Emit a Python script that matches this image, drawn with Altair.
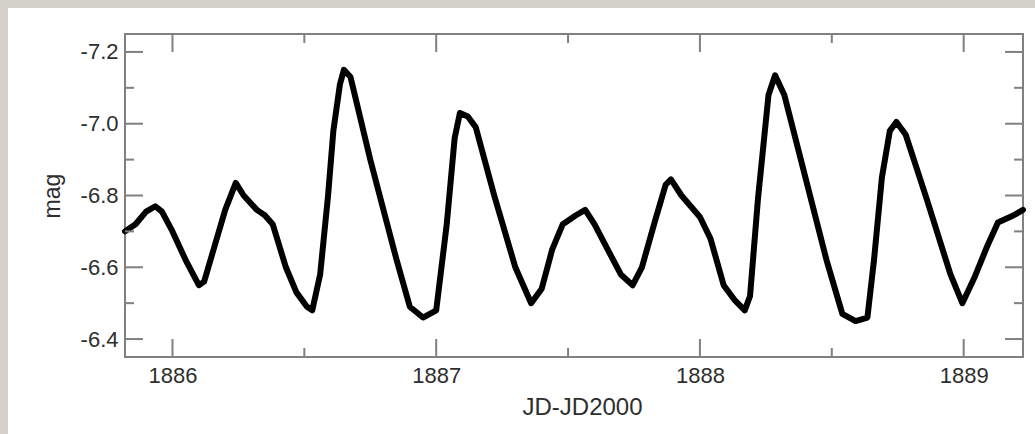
import altair as alt
import pandas as pd

# Light curve (JD-JD2000, mag)
jd = [1885.82, 1885.86, 1885.90, 1885.935, 1885.96, 1886.00, 1886.05, 1886.10, 1886.12,
      1886.16, 1886.20, 1886.24, 1886.27, 1886.32, 1886.35, 1886.38, 1886.43, 1886.47,
      1886.51, 1886.53, 1886.56, 1886.59, 1886.61, 1886.635, 1886.65, 1886.675, 1886.75,
      1886.85, 1886.90, 1886.95, 1887.00, 1887.04, 1887.07, 1887.09, 1887.12, 1887.15,
      1887.22, 1887.30, 1887.36, 1887.40, 1887.44, 1887.48, 1887.53, 1887.565, 1887.60,
      1887.65, 1887.70, 1887.745, 1887.78, 1887.83, 1887.87, 1887.89, 1887.93, 1888.00,
      1888.04, 1888.09, 1888.13, 1888.17, 1888.19, 1888.22, 1888.26, 1888.285, 1888.32,
      1888.40, 1888.48, 1888.54, 1888.59, 1888.635, 1888.66, 1888.69, 1888.72, 1888.745,
      1888.78, 1888.86, 1888.95, 1888.995, 1889.04, 1889.09, 1889.13, 1889.19, 1889.225]
mag = [-6.70, -6.72, -6.755, -6.77, -6.755, -6.70, -6.62, -6.55, -6.56,
       -6.66, -6.76, -6.835, -6.80, -6.76, -6.745, -6.72, -6.60, -6.53,
       -6.49, -6.48, -6.58, -6.80, -6.98, -7.11, -7.15, -7.13, -6.90,
       -6.62, -6.49, -6.46, -6.48, -6.72, -6.96, -7.03, -7.02, -6.99,
       -6.80, -6.60, -6.50, -6.54, -6.65, -6.72, -6.745, -6.76, -6.72,
       -6.65, -6.58, -6.55, -6.60, -6.73, -6.83, -6.845, -6.80, -6.74,
       -6.68, -6.55, -6.51, -6.48, -6.52, -6.79, -7.08, -7.135, -7.08,
       -6.85, -6.62, -6.47, -6.45, -6.46, -6.62, -6.85, -6.98, -7.005,
       -6.97, -6.79, -6.58, -6.50, -6.57, -6.66, -6.725, -6.745, -6.76]

x_major = [1886, 1887, 1888, 1889]
x_minor = [1886.5, 1887.5, 1888.5]
y_major = [-7.2, -7.0, -6.8, -6.6, -6.4]
y_minor = [-7.1, -6.9, -6.7, -6.5]

W, H = 898, 323
PAD_L, PAD_T, PAD_R, PAD_B = 125, 34, 12, 77
FRAME = "#808080"
TXT = "#2e2e2e"
FONT = "Liberation Sans"

xscale = alt.Scale(domain=[1885.82, 1889.225], nice=False, zero=False)
yscale = alt.Scale(domain=[-7.25, -6.35], reverse=True, nice=False, zero=False)

xaxis = alt.Axis(values=x_major, format="d", ticks=False, domain=False, grid=False,
                 labelFontSize=22, labelFont=FONT, labelColor=TXT, labelPadding=8,
                 title="JD-JD2000", titleFontSize=24, titleFont=FONT, titleColor=TXT,
                 titleFontWeight="normal", titleX=457, titleY=50,
                 titleBaseline="middle", zindex=1)
yaxis = alt.Axis(values=y_major, ticks=False, domain=False, grid=False,
                 labelExpr="'-' + format(abs(datum.value), '.1f')",
                 labelFontSize=22, labelFont=FONT, labelColor=TXT, labelPadding=7,
                 title="mag", titleFontSize=23, titleFont=FONT, titleColor=TXT,
                 titleFontWeight="normal", titleAngle=-90, titleX=-73, titleY=H / 2,
                 titleBaseline="middle", titleAlign="center", zindex=1)

df = pd.DataFrame({"jd": jd, "mag": mag})

curve = alt.Chart(df).mark_line(
    color="black", strokeWidth=6, strokeJoin="round", strokeCap="round"
).encode(
    x=alt.X("jd:Q", scale=xscale, axis=xaxis, title="JD-JD2000"),
    y=alt.Y("mag:Q", scale=yscale, axis=yaxis, title="mag"),
)

def yticks(vals, length):
    d = pd.DataFrame({"mag": vals})
    out = []
    for x0, x1 in [(0, length), (W - length, W)]:
        out.append(alt.Chart(d).mark_rule(color=FRAME, strokeWidth=2).encode(
            y=alt.Y("mag:Q", scale=yscale, axis=yaxis, title="mag"),
            x=alt.value(x0), x2=alt.value(x1)))
    return out

def xticks(vals, length):
    d = pd.DataFrame({"jd": vals})
    out = []
    for y0, y1 in [(H - length, H), (0, length)]:
        out.append(alt.Chart(d).mark_rule(color=FRAME, strokeWidth=2).encode(
            x=alt.X("jd:Q", scale=xscale, axis=xaxis, title="JD-JD2000"),
            y=alt.value(y0), y2=alt.value(y1)))
    return out

one = pd.DataFrame({"a": [0]})
GRAY = "#d4d0ca"
strip_top = alt.Chart(one).mark_rect(color=GRAY).encode(
    x=alt.value(-PAD_L), x2=alt.value(W + PAD_R), y=alt.value(-PAD_T), y2=alt.value(-PAD_T + 8))
strip_left = alt.Chart(one).mark_rect(color=GRAY).encode(
    x=alt.value(-PAD_L), x2=alt.value(-PAD_L + 8), y=alt.value(-PAD_T), y2=alt.value(H + PAD_B))

layers = [curve, strip_top, strip_left]
layers += yticks(y_major, 18) + yticks(y_minor, 9)
layers += xticks(x_major, 18) + xticks(x_minor, 9)

chart = alt.layer(*layers).properties(
    width=W, height=H,
    autosize=alt.AutoSizeParams(type="none"),
    padding={"left": PAD_L, "top": PAD_T, "right": PAD_R, "bottom": PAD_B},
).configure(background="white").configure_view(stroke=FRAME, strokeWidth=2)

chart.save("out.html", embed_options={"renderer": "svg", "actions": False})
